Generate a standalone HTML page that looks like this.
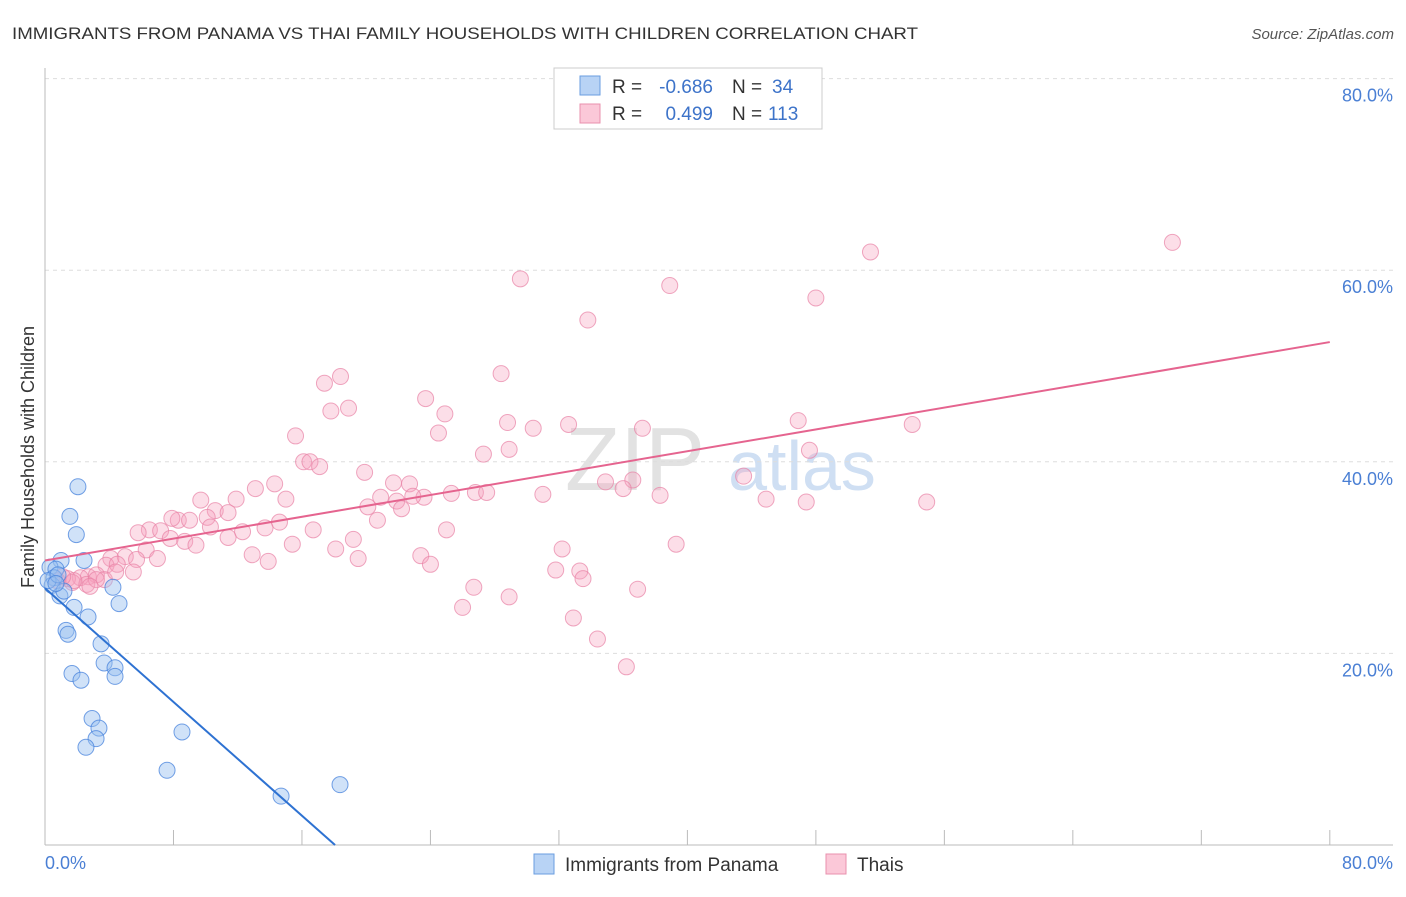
<!DOCTYPE html>
<html><head><meta charset="utf-8"><style>
body{margin:0;background:#fff;font-family:"Liberation Sans",sans-serif}
svg text{font-family:"Liberation Sans",sans-serif}
</style></head><body>
<svg width="1406" height="892">
<text x="12" y="39" font-size="17" fill="#333" textLength="906" lengthAdjust="spacingAndGlyphs">IMMIGRANTS FROM PANAMA VS THAI FAMILY HOUSEHOLDS WITH CHILDREN CORRELATION CHART</text>
<text x="1394" y="39" font-size="15" fill="#555" text-anchor="end" font-style="italic">Source: ZipAtlas.com</text>
<text x="635" y="490" font-size="90" fill="#e2e2e2" font-family="Liberation Serif" text-anchor="middle">ZIP</text>
<text x="802" y="490" font-size="70" fill="#cfdff3" text-anchor="middle">atlas</text>
<g id="grid"></g>
<g id="axes"></g>
<g id="pts"></g>
<g id="lines"></g>
<text transform="translate(34,457) rotate(-90)" font-size="18" fill="#333" text-anchor="middle">Family Households with Children</text>
<text x="45" y="869" font-size="18" fill="#4a7fd4">0.0%</text>
<text x="1393" y="869" font-size="18" fill="#4a7fd4" text-anchor="end">80.0%</text>
<g>
<rect x="554" y="68" width="268" height="61" fill="#fff" stroke="#ccc"/>
<rect x="580" y="76" width="20" height="19" fill="#b8d3f5" stroke="#6a9ee0"/>
<rect x="580" y="104" width="20" height="19" fill="#fbc8d8" stroke="#e890ae"/>
<text x="612" y="93" font-size="19" fill="#333">R =</text>
<text x="713" y="93" font-size="19" fill="#3d73c9" text-anchor="end">-0.686</text>
<text x="732" y="93" font-size="19" fill="#333">N =</text>
<text x="772" y="93" font-size="19" fill="#3d73c9">34</text>
<text x="612" y="120" font-size="19" fill="#333">R =</text>
<text x="713" y="120" font-size="19" fill="#3d73c9" text-anchor="end">0.499</text>
<text x="732" y="120" font-size="19" fill="#333">N =</text>
<text x="768" y="120" font-size="19" fill="#3d73c9">113</text>
</g>
<g>
<rect x="534" y="854" width="20" height="20" fill="#b8d3f5" stroke="#6a9ee0"/>
<text x="565" y="871" font-size="19" fill="#333">Immigrants from Panama</text>
<rect x="826" y="854" width="20" height="20" fill="#fbc8d8" stroke="#e890ae"/>
<text x="857" y="871" font-size="19" fill="#333">Thais</text>
</g>
</svg>
<script>
const yTicks=[20,40,60,80];
const xTicks=[0,8,16,24,32,40,48,56,64,72,80];
const blueX=[2.05,1.55,1.95,1.0,2.43,0.31,0.68,0.56,0.44,4.23,0.93,4.61,1.81,2.68,1.31,1.43,3.49,3.68,4.36,1.68,2.24,4.36,2.93,3.36,3.18,2.55,8.53,7.60,14.70,18.37,0.19,0.81,1.18,0.68];
const blueY=[37.4,34.3,32.4,29.7,29.7,29.0,28.8,27.9,27.1,26.9,26.0,25.2,24.8,23.8,22.4,22.0,21.0,19.0,18.5,17.9,17.2,17.6,13.2,12.2,11.1,10.2,11.8,7.8,5.1,6.3,27.6,28.2,26.5,27.3];
const pinkX=[70.2,51.4,29.6,38.9,48.0,33.8,18.4,17.4,28.4,18.9,17.8,23.7,24.9,46.9,54.0,28.8,30.4,37.2,32.6,15.6,24.5,28.9,27.3,47.6,16.1,16.5,17.1,19.9,43.5,21.7,22.7,14.3,13.1,34.9,36.6,36.0,23.6,25.3,26.8,27.5,31.0,38.3,44.9,47.4,54.9,9.7,11.9,15.0,20.9,20.1,21.9,22.2,22.9,20.7,10.6,11.4,10.1,8.3,7.9,9.0,6.5,5.8,7.2,10.3,12.3,13.7,14.6,16.7,25.0,7.8,8.7,9.4,11.4,6.3,15.4,18.1,19.2,39.3,32.2,23.4,7.0,12.9,13.9,19.5,24.0,4.1,5.0,5.7,3.8,4.5,5.5,31.8,33.3,33.5,2.7,3.2,3.7,2.2,1.4,1.7,2.6,3.2,1.8,1.1,26.7,36.9,28.9,26.0,32.9,34.4,36.2,4.4,2.8,0.75];
const pinkY=[62.9,61.9,59.1,58.4,57.1,54.8,48.9,48.2,49.2,45.6,45.3,46.6,45.0,44.3,43.9,44.1,43.5,43.5,43.9,42.7,43.0,41.3,40.8,41.2,40.0,40.0,39.5,38.9,38.5,37.8,37.7,37.7,37.2,37.9,38.1,37.2,36.3,36.7,36.8,36.8,36.6,36.5,36.1,35.8,35.8,36.0,36.1,36.1,36.3,35.3,35.9,35.1,36.4,33.9,34.9,34.7,34.2,33.9,34.1,33.9,32.9,32.6,32.8,33.2,32.7,33.1,33.7,32.9,32.9,32.0,31.7,31.3,32.1,30.8,31.4,30.9,31.9,31.4,30.9,30.2,29.9,30.3,29.6,29.9,29.3,29.9,30.1,29.8,29.2,29.3,28.5,28.7,28.6,27.8,28.0,28.2,27.7,27.9,27.8,27.4,27.2,27.7,27.6,28.0,26.9,26.7,25.9,24.8,23.7,21.5,18.6,28.5,27.0,27.6];
const blueLine=[0,26.8,18.06,0];
const pinkLine=[0,29.7,80,52.5];
const X=v=>45+v*16.06, Y=v=>845-v*9.58;
const NS='http://www.w3.org/2000/svg';
function mk(tag,attrs,parent){const e=document.createElementNS(NS,tag);for(const k in attrs)e.setAttribute(k,attrs[k]);parent.appendChild(e);return e;}
const grid=document.getElementById('grid'),axes=document.getElementById('axes'),pts=document.getElementById('pts'),lines=document.getElementById('lines');
yTicks.forEach(t=>{
 const l=mk('line',{x1:45,x2:1393,y1:Y(t),y2:Y(t),stroke:'#ddd','stroke-dasharray':'4,4'},grid);
 
 
 const tx=mk('text',{x:1393,y:Y(t)+23,'font-size':18,fill:'#4a7fd4','text-anchor':'end'},grid);
 tx.textContent=t.toFixed(1)+'%';
 
 
});
const xa=mk('line',{x1:45,x2:1393,y1:845,y2:845,stroke:'#bbb'},axes);


const ya=mk('line',{x1:45,x2:45,y1:68,y2:845,stroke:'#bbb'},axes);


xTicks.forEach(t=>{
 const l=mk('line',{x1:X(t),x2:X(t),y1:830,y2:845,stroke:'#bbb'},axes);
 
 
});
pinkX.forEach((x,i)=>{
 const c=mk('circle',{cx:X(x),cy:Y(pinkY[i]),r:8,fill:'rgba(246,160,190,0.35)',stroke:'rgba(232,130,165,0.7)','stroke-width':1},pts);
 
 
});
blueX.forEach((x,i)=>{
 const c=mk('circle',{cx:X(x),cy:Y(blueY[i]),r:8,fill:'rgba(150,190,240,0.45)',stroke:'rgba(70,130,220,0.75)','stroke-width':1},pts);
 
 
});
const bl=mk('line',{x1:X(blueLine[0]),y1:Y(blueLine[1]),x2:X(blueLine[2]),y2:Y(blueLine[3]),stroke:'#2e72d2','stroke-width':2},lines);


const pl=mk('line',{x1:X(pinkLine[0]),y1:Y(pinkLine[1]),x2:X(pinkLine[2]),y2:Y(pinkLine[3]),stroke:'#e5648f','stroke-width':2},lines);


</script>
</body></html>
